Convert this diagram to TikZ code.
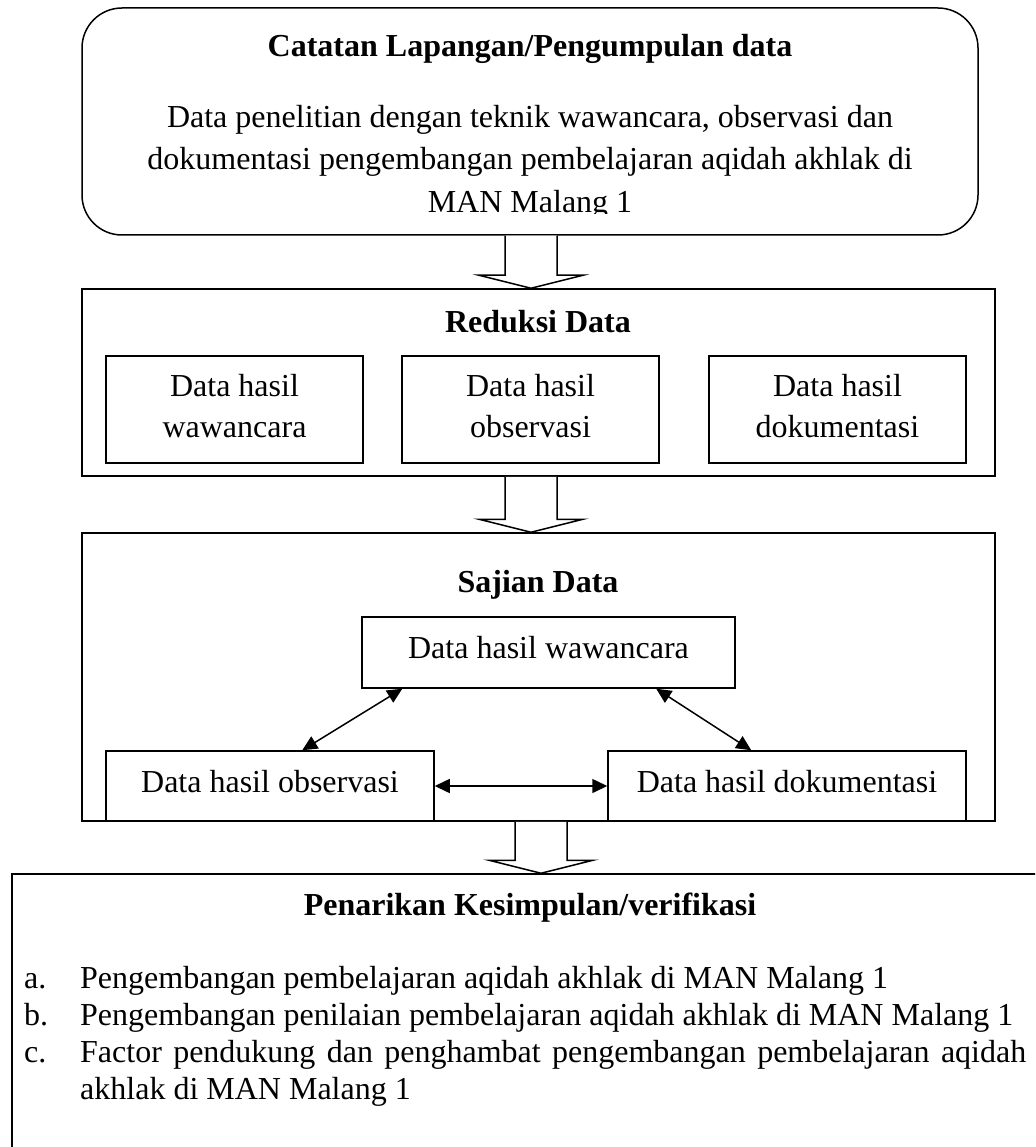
\documentclass[tikz,border=0pt]{standalone}
\usepackage{fontspec}
\setmainfont{Liberation Serif}
\usetikzlibrary{arrows.meta,calc}
\begin{document}
\begin{tikzpicture}[x=1pt,y=-1pt,
  font=\fontsize{32}{37}\selectfont,
  box/.style={draw, line width=1.5pt, inner sep=0pt, minimum width=#1},
  txt/.style={inner sep=0pt, anchor=base},
  ttl/.style={txt, font=\fontsize{32}{37}\selectfont\bfseries},
  blk/.style={draw, line width=1.5pt, fill=white, line join=miter},
  dbl/.style={{Triangle[length=15pt,width=14pt]}-{Triangle[length=15pt,width=14pt]}, line width=1.5pt}]
\clip (0,0) rectangle (1035,1147);
% boxes
\node[box=896pt, minimum height=227pt, rounded corners=40pt] (cat) at (530,121.5) {};
\node[box=913pt, minimum height=187pt] (red) at (538.5,382.5) {};
\node[box=257pt, minimum height=107pt] (r1) at (234.5,409.5) {};
\node[box=257pt, minimum height=107pt] (r2) at (530.5,409.5) {};
\node[box=257pt, minimum height=107pt] (r3) at (837.5,409.5) {};
\node[box=913pt, minimum height=288pt] (saj) at (538.5,677) {};
\node[box=373pt, minimum height=71pt] (waw) at (548.5,652.5) {};
\node[box=328pt, minimum height=70pt] (obs) at (270,786) {};
\node[box=358pt, minimum height=70pt] (dok) at (787,786) {};
\node[box=1040pt, minimum height=300pt] (bot) at (532,1024) {};
% texts
\node[ttl] (catT) at (530,57) {Catatan Lapangan/Pengumpulan data};
\node[txt] (cat1) at (530,128) {Data penelitian dengan teknik wawancara, observasi dan};
\node[txt] (cat2) at (530,170) {dokumentasi pengembangan pembelajaran aqidah akhlak di};
\begin{scope}
\clip (0,0) rectangle (1035,214);
\node[txt] (cat3) at (530,213) {MAN Malang 1};
\end{scope}
\node[ttl] (redT) at (538,332) {Reduksi Data};
\node[txt] (r1a) at (234.5,396) {Data hasil};
\node[txt] (r1b) at (234.5,437) {wawancara};
\node[txt] (r2a) at (530.5,396) {Data hasil};
\node[txt] (r2b) at (530.5,437) {observasi};
\node[txt] (r3a) at (837.5,396) {Data hasil};
\node[txt] (r3b) at (837.5,437) {dokumentasi};
\node[ttl] (sajT) at (538,592) {Sajian Data};
\node[txt] (wawT) at (548.5,658) {Data hasil wawancara};
\node[txt] (obsT) at (270,792) {Data hasil observasi};
\node[txt] (dokT) at (787,792) {Data hasil dokumentasi};
\node[ttl] (botT) at (530,915) {Penarikan Kesimpulan/verifikasi};
\node[txt, anchor=base west] (la) at (24,988) {a.};
\node[txt, anchor=base west] (ia) at (80,988) {Pengembangan pembelajaran aqidah akhlak di MAN Malang 1};
\node[txt, anchor=base west] (lb) at (24,1025) {b.};
\node[txt, anchor=base west] (ib) at (80,1025) {Pengembangan penilaian pembelajaran aqidah akhlak di MAN Malang 1};
\node[txt, anchor=base west] (lc) at (24,1062) {c.};
\node[txt, anchor=base west] (ic) at (80,1062) {\makebox[946pt][s]{Factor pendukung dan penghambat pengembangan pembelajaran aqidah}};
\node[txt, anchor=base west] (ic2) at (80,1099) {akhlak di MAN Malang 1};
% block arrows
\coordinate (t1) at ($(red.north)+(-7.5,0)$);
\coordinate (t2) at ($(saj.north)+(-7.5,0)$);
\coordinate (t3) at ($(bot.north)+(9,0)$);
\newcommand\blockarrow[2]{%
  \draw[blk] let \p1=(#2), \p2=(#1.south) in
    (\x1-26,\y2) -- (\x1-26,\y1+13) -- (\x1-52,\y1+13) -- (\x1,\y1)
    -- (\x1+52,\y1+13) -- (\x1+26,\y1+13) -- (\x1+26,\y2);}
\blockarrow{cat}{t1}
\blockarrow{red}{t2}
\blockarrow{saj}{t3}
% connectors
\draw[dbl] ([xshift=197pt]obs.north west) -- ([xshift=41pt]waw.south west);
\draw[dbl] ([xshift=295pt]waw.south west) -- ([xshift=144pt]dok.north west);
\draw[dbl] (obs.east) -- (dok.west);
\end{tikzpicture}
\end{document}
